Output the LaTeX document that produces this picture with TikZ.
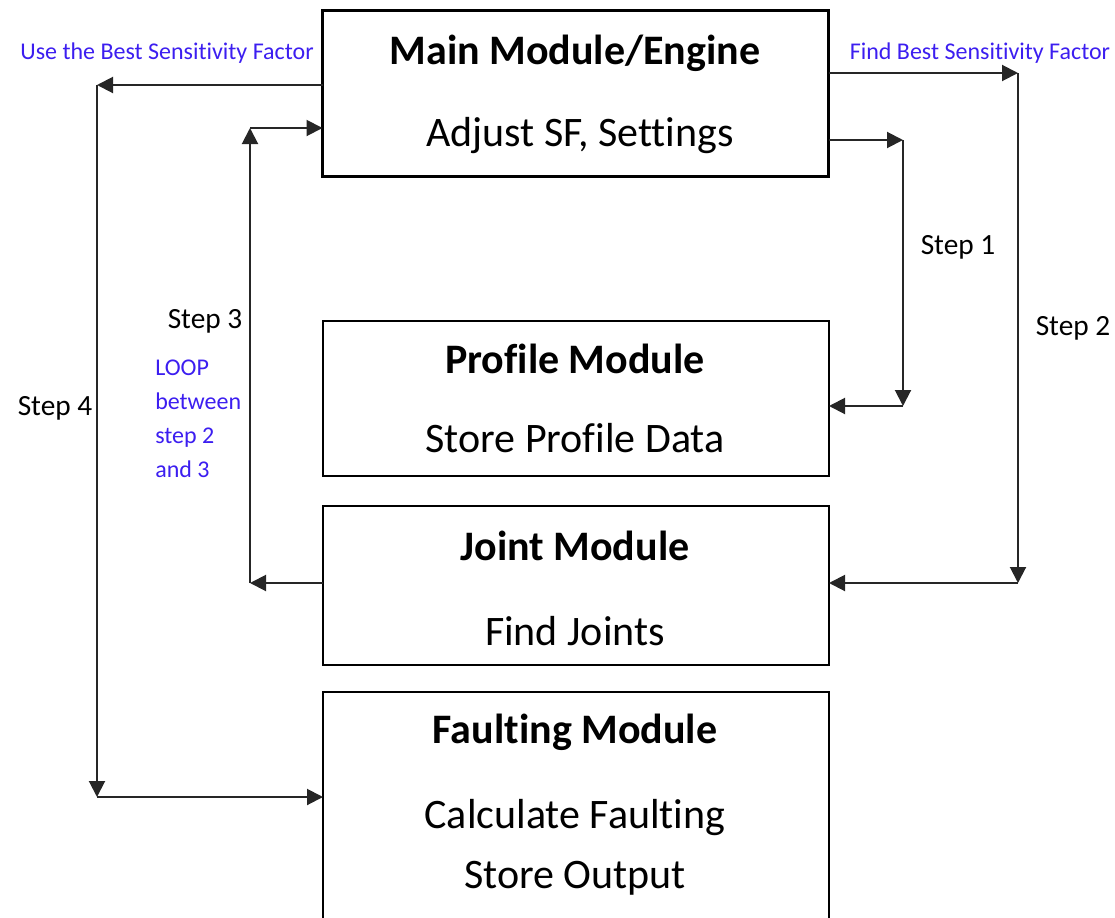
\documentclass[tikz,border=0pt]{standalone}
\usepackage{fontspec}
\setmainfont{Carlito}[Ligatures={NoCommon,NoContextual}]
\usetikzlibrary{arrows.meta,calc,positioning}
\definecolor{labelblue}{RGB}{60,30,240}

\begin{document}
\begin{tikzpicture}[x=0.75pt,y=-0.75pt,>={Triangle[length=12pt,width=12pt]},line join=miter,
  box/.style={draw,line width=1.5pt,inner sep=0pt,outer sep=0pt,minimum width=379.5pt},
  title/.style={font=\fontsize{31.5}{36}\selectfont\bfseries,inner sep=0pt},
  body/.style={font=\fontsize{31.5}{36}\selectfont,inner sep=0pt},
  steplabel/.style={font=\fontsize{22}{26}\selectfont,inner sep=0pt},
  bluelabel/.style={font=\fontsize{18}{25.5}\selectfont,text=labelblue,inner sep=0pt},
  link/.style={->,line width=1.5pt,draw=black!85}]
\clip (0,0) rectangle (1115,918);
% module boxes
\node[box,line width=2.25pt,minimum height=124.5pt] (main) at (575.5,93) {};
\node[box,minimum height=116.25pt] (profile) at (576,398.5) {};
\node[box,minimum height=119.25pt] (joint) at (576,585.5) {};
\node[box,minimum height=186pt] (fault) at (576,816) {};
% box texts
\node[title] (maintitle) at (575,53) {Main Module/Engine};
\node[body] (mainbody) at (580,136) {Adjust SF, Settings};
\node[title] (proftitle) at (575,359) {Profile Module};
\node[body] (profbody) at (575,438) {Store Profile Data};
\node[title] (jointtitle) at (575,546) {Joint Module};
\node[body] (jointbody) at (575,631) {Find Joints};
\node[title] (faulttitle) at (575,732) {Faulting Module};
\node[body] (faultbody) at (575,818) {Calculate Faulting};
\node[body] (faultout) at (575,878) {Store Output};
% corner points of the loops
\coordinate (s1top) at (903,140); \coordinate (s1bot) at (903,406);
\coordinate (s2top) at (1018,73); \coordinate (s2bot) at (1018,583);
\coordinate (s3bot) at (250,583); \coordinate (s3top) at (250,128);
\coordinate (s4top) at (97,85); \coordinate (s4bot) at (97,797);
% step 1
\draw[link] (main.east |- s1top) -- (s1top);
\draw[link] (s1top) -- (s1bot);
\draw[link] (s1bot) -- (s1bot -| profile.east);
% step 2
\draw[link] (main.east |- s2top) -- (s2top);
\draw[link] (s2top) -- (s2bot);
\draw[link] (s2bot) -- (s2bot -| joint.east);
% step 3
\draw[link] (joint.west |- s3bot) -- (s3bot);
\draw[link] (s3bot) -- (s3top);
\draw[link] (s3top) -- (s3top -| main.west);
% step 4
\draw[link] (main.west |- s4top) -- (s4top);
\draw[link] (s4top) -- (s4bot);
\draw[link] (s4bot) -- (s4bot -| fault.west);
% labels
\node[bluelabel] (usebest) at (167,53) {Use the Best Sensitivity Factor};
\node[bluelabel] (findbest) at (980,53) {Find Best Sensitivity Factor};
\node[steplabel] (step1) at (958,247) {Step 1};
\node[steplabel] (step2) at (1073,328) {Step 2};
\node[steplabel] (step3) at (205,321) {Step 3};
\node[steplabel] (step4) at (55,408) {Step 4};
\node[bluelabel,align=left,anchor=north west] (loop) at (155,360) {LOOP\\between\\step 2\\and 3};
\end{tikzpicture}
\end{document}
